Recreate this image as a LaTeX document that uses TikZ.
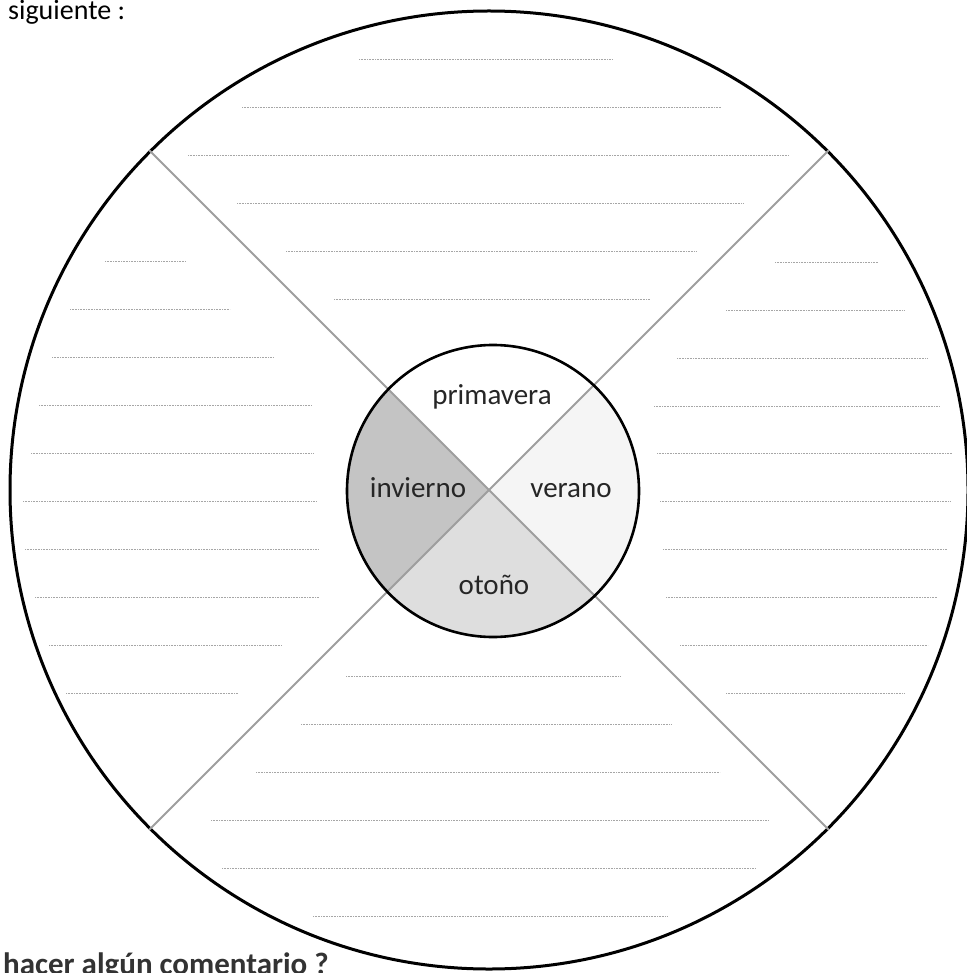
\documentclass[tikz,border=0pt]{standalone}
\usepackage{fontspec}
\setmainfont{Carlito}
\begin{document}
\begin{tikzpicture}[x=1pt,y=-1pt,
  bigring/.style={circle,draw=black,line width=3pt,minimum size=958pt,inner sep=0pt},
  smallring/.style={circle,draw=black,line width=2.6pt,minimum size=292pt,inner sep=0pt},
  diag/.style={draw=black!38,line width=2pt},
  guide/.style={draw=black!35,line width=0.7pt,dash pattern=on 0.8pt off 0.8pt},
  season/.style={font=\fontsize{29}{33}\selectfont,text=black!85,inner sep=0pt,anchor=base},
  note/.style={font=\fontsize{28}{32}\selectfont,inner sep=0pt,anchor=base west},
  boldnote/.style={font=\fontsize{31}{34}\selectfont\bfseries,text=black!80,inner sep=0pt,anchor=base west}]
\useasboundingbox (0,0) rectangle (966,973);
\fill[white] (0,0) rectangle (966,973);
\coordinate (C) at (489,491);
% quadrant fills inside the small circle
\begin{scope}
  \clip (493,491) circle[radius=146pt];
  \fill[black!23] (C) -- (189,191) -- (189,791) -- cycle;
  \fill[black!13] (C) -- (189,791) -- (789,791) -- cycle;
  \fill[black!4] (C) -- (789,791) -- (789,191) -- cycle;
\end{scope}
\node[bigring] (big) at (489,490) {};
% writing guide lines
\foreach \yy/\xa/\xb in {
  59/359/612, 107/242/721, 155/188/789, 203/237/743, 251/286/697, 299/334/650,
  261/105/186, 309/70/230, 357/52/273, 405/39/312, 453/31/314, 501/23/316,
  549/25/318, 597/35/319, 645/49/282, 693/66/238,
  262/775/878, 310/726/905, 358/677/927, 406/654/940, 453/657/952, 501/660/951,
  549/663/947, 597/666/937, 645/680/928, 693/726/904,
  676/346/621, 724/301/671, 772/256/720, 820/211/769, 868/222/756, 916/313/668}
  {\draw[guide] (\xa,\yy) -- (\xb,\yy);}
\draw[diag] (big.135) -- (big.-45);
\draw[diag] (big.45) -- (big.-135);
\node[smallring] (small) at (493,491) {};
\node[season] (prim) at (492,404) {primavera};
\node[season] (inv) at (418,497) {invierno};
\node[season] (ver) at (571,497) {verano};
\node[season] (oto) at (494,594) {otoño};
\node[note] (sig) at (8,20) {siguiente :};
\node[boldnote] (com) at (3,974) {hacer algún comentario ?};
\end{tikzpicture}
\end{document}
